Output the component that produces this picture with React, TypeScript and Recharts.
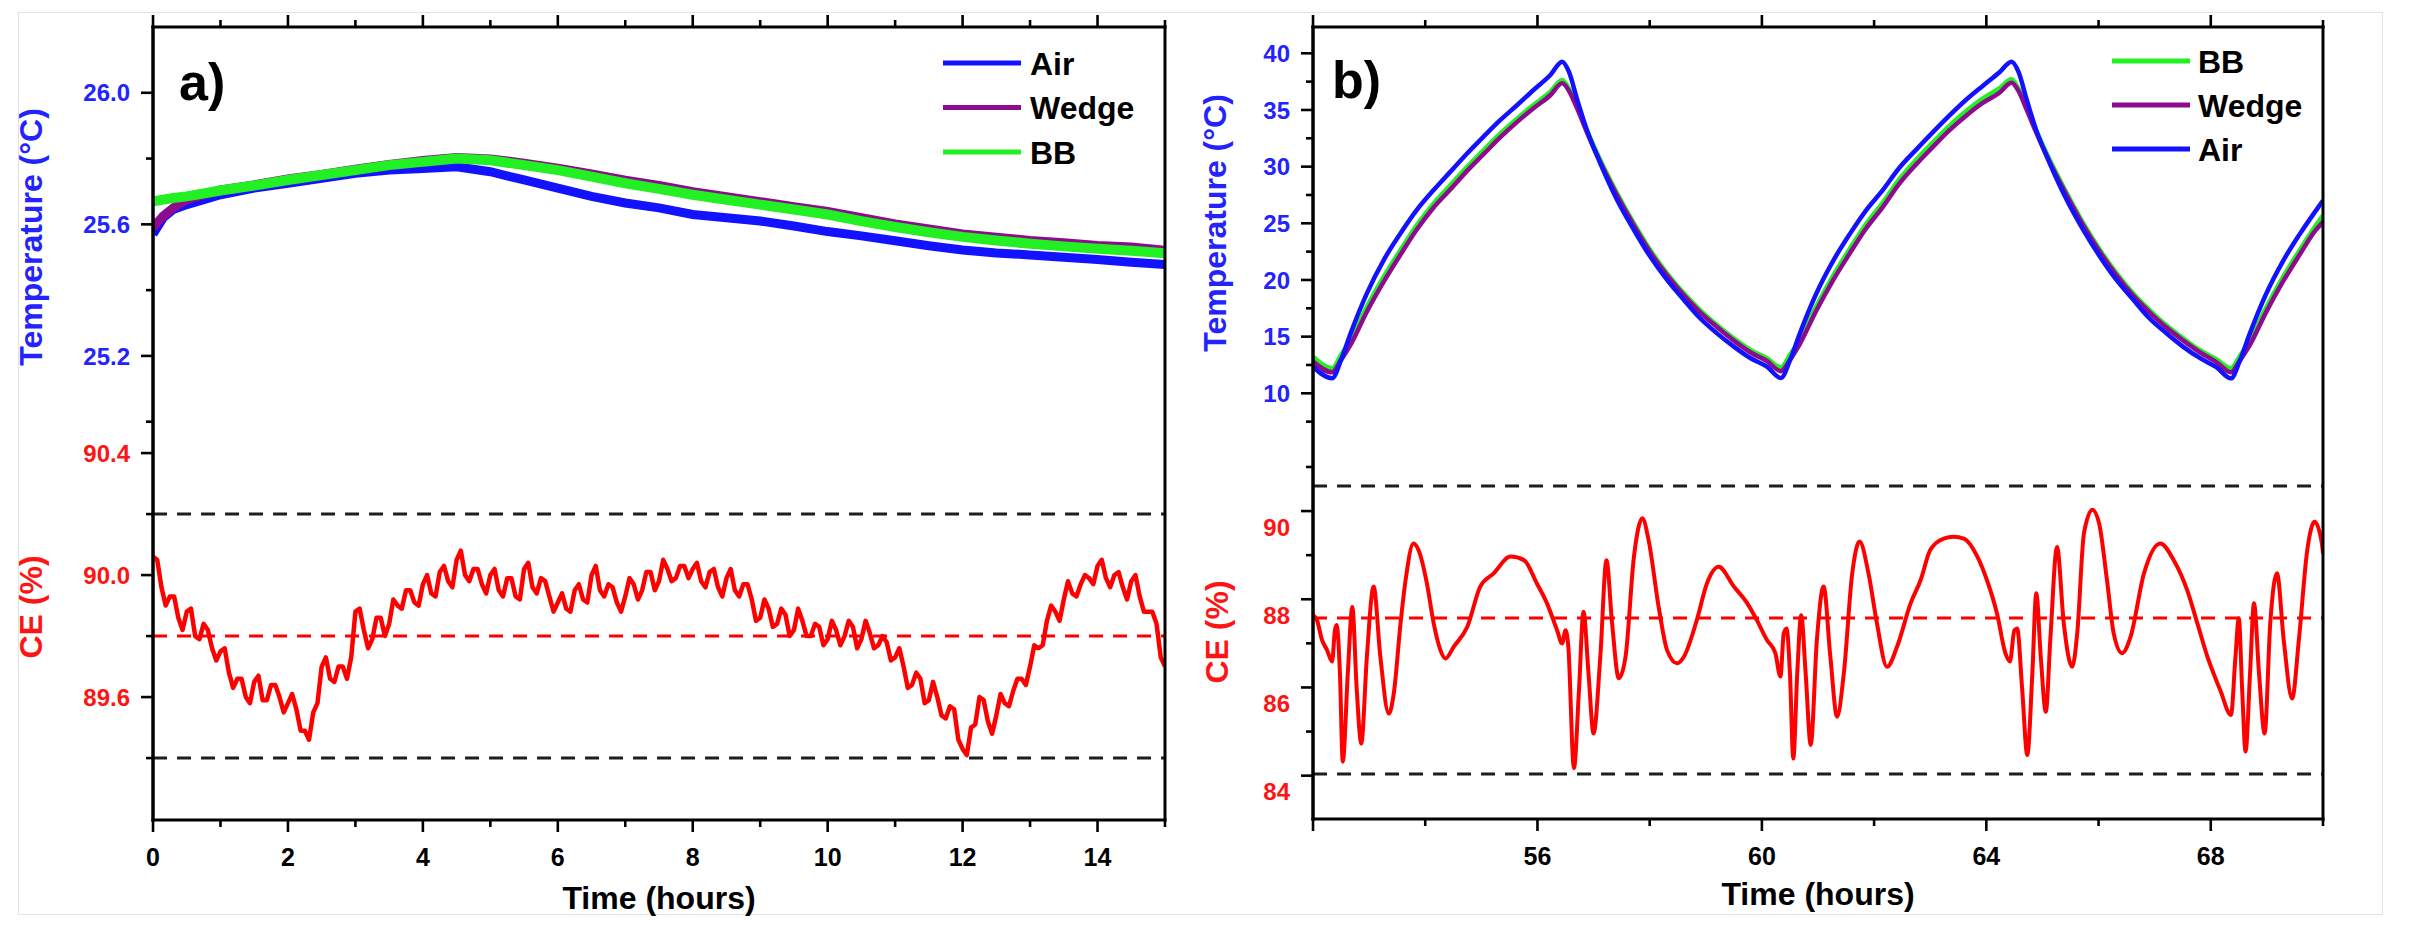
import React from 'react';
import { LineChart, Line, XAxis, YAxis, ReferenceLine } from 'recharts';

const FONT = '"Liberation Sans", Arial, Helvetica, sans-serif';

const AIR_COLOR = '#1212ff';
const WEDGE_COLOR = '#8e0a8e';
const BB_COLOR = '#22f022';
const CE_COLOR = '#ff0000';
const TEMP_TEXT = '#2323ff';
const CE_TEXT = '#ff1414';
const DASH_BLACK = '#1e1e1e';

/* ---------------- Panel a ---------------- */
const tempTimesA = [0, 0.15, 0.3, 0.5, 1, 1.5, 2, 2.5, 3, 3.5, 4, 4.5, 5, 5.5, 6, 6.5, 7, 7.5, 8, 8.5, 9, 9.5, 10, 10.5, 11, 11.5, 12, 12.5, 13, 13.5, 14, 14.5, 15];
const airTempA = [25.57, 25.62, 25.645, 25.66, 25.69, 25.71, 25.725, 25.74, 25.755, 25.765, 25.77, 25.775, 25.76, 25.735, 25.71, 25.685, 25.665, 25.65, 25.63, 25.62, 25.61, 25.595, 25.578, 25.565, 25.55, 25.535, 25.522, 25.513, 25.507, 25.5, 25.493, 25.485, 25.478];
const wedgeTempA = [25.59, 25.625, 25.65, 25.675, 25.705, 25.72, 25.738, 25.752, 25.768, 25.782, 25.794, 25.803, 25.799, 25.786, 25.771, 25.753, 25.734, 25.718, 25.699, 25.684, 25.669, 25.654, 25.639, 25.62, 25.601, 25.586, 25.571, 25.561, 25.551, 25.544, 25.536, 25.531, 25.521];
const bbTempA = [25.67, 25.675, 25.68, 25.685, 25.703, 25.718, 25.735, 25.75, 25.765, 25.78, 25.79, 25.8, 25.795, 25.78, 25.765, 25.745, 25.725, 25.708, 25.69, 25.675, 25.66, 25.645, 25.63, 25.61, 25.592, 25.576, 25.562, 25.551, 25.541, 25.533, 25.526, 25.52, 25.512];

const ceTimesA = [0, 0.125, 0.25, 0.375, 0.5, 0.625, 0.75, 0.875, 1, 1.125, 1.25, 1.375, 1.5, 1.625, 1.75, 1.875, 2, 2.125, 2.25, 2.375, 2.5, 2.625, 2.75, 2.875, 3, 3.125, 3.25, 3.375, 3.5, 3.625, 3.75, 3.875, 4, 4.125, 4.25, 4.375, 4.5, 4.625, 4.75, 4.875, 5, 5.125, 5.25, 5.375, 5.5, 5.625, 5.75, 5.875, 6, 6.125, 6.25, 6.375, 6.5, 6.625, 6.75, 6.875, 7, 7.125, 7.25, 7.375, 7.5, 7.625, 7.75, 7.875, 8, 8.125, 8.25, 8.375, 8.5, 8.625, 8.75, 8.875, 9, 9.125, 9.25, 9.375, 9.5, 9.625, 9.75, 9.875, 10, 10.125, 10.25, 10.375, 10.5, 10.625, 10.75, 10.875, 11, 11.125, 11.25, 11.375, 11.5, 11.625, 11.75, 11.875, 12, 12.125, 12.25, 12.375, 12.5, 12.625, 12.75, 12.875, 13, 13.125, 13.25, 13.375, 13.5, 13.625, 13.75, 13.875, 14, 14.125, 14.25, 14.375, 14.5, 14.625, 14.75, 14.875, 15];
const ceA = [
  90.06, 89.96, 89.93, 89.86, 89.88, 89.80, 89.84, 89.76,
  89.75, 89.68, 89.66, 89.60, 89.65, 89.59, 89.64, 89.60,
  89.58, 89.56, 89.49, 89.55, 89.70, 89.66, 89.70, 89.66,
  89.88, 89.82, 89.79, 89.86, 89.84, 89.90, 89.95, 89.91,
  89.97, 89.94, 90.01, 89.98, 90.05, 90.00, 90.02, 89.97,
  90.00, 89.95, 89.99, 89.93, 90.02, 89.96, 89.99, 89.93,
  89.91, 89.89, 89.95, 89.92, 90.00, 89.95, 89.97, 89.91,
  89.93, 89.97, 89.95, 90.01, 89.98, 90.02, 89.99, 90.03,
  90.02, 89.98, 90.01, 89.96, 89.99, 89.95, 89.97, 89.92,
  89.86, 89.89, 89.84, 89.87, 89.82, 89.85, 89.80, 89.83,
  89.79, 89.82, 89.80, 89.83, 89.79, 89.81, 89.77, 89.78,
  89.73, 89.70, 89.64, 89.66, 89.59, 89.60, 89.53, 89.56,
  89.43, 89.50, 89.60, 89.52, 89.54, 89.58, 89.62, 89.66,
  89.70, 89.76, 89.85, 89.88, 89.92, 89.94, 89.97, 89.99,
  90.03, 89.99, 90.00, 89.96, 89.98, 89.93, 89.88, 89.84,
  89.70,
];
// in-between readings (the fast jitter of the CE trace)
const ceMidTimesA = [
  0.0625, 0.1875, 0.3125, 0.4375, 0.5625, 0.6875, 0.8125, 0.9375,
  1.0625, 1.1875, 1.3125, 1.4375, 1.5625, 1.6875, 1.8125, 1.9375,
  2.0625, 2.1875, 2.3125, 2.4375, 2.5625, 2.6875, 2.8125, 2.9375,
  3.0625, 3.1875, 3.3125, 3.4375, 3.5625, 3.6875, 3.8125, 3.9375,
  4.0625, 4.1875, 4.3125, 4.4375, 4.5625, 4.6875, 4.8125, 4.9375,
  5.0625, 5.1875, 5.3125, 5.4375, 5.5625, 5.6875, 5.8125, 5.9375,
  6.0625, 6.1875, 6.3125, 6.4375, 6.5625, 6.6875, 6.8125, 6.9375,
  7.0625, 7.1875, 7.3125, 7.4375, 7.5625, 7.6875, 7.8125, 7.9375,
  8.0625, 8.1875, 8.3125, 8.4375, 8.5625, 8.6875, 8.8125, 8.9375,
  9.0625, 9.1875, 9.3125, 9.4375, 9.5625, 9.6875, 9.8125, 9.9375,
  10.0625, 10.1875, 10.3125, 10.4375, 10.5625, 10.6875, 10.8125, 10.9375,
  11.0625, 11.1875, 11.3125, 11.4375, 11.5625, 11.6875, 11.8125, 11.9375,
  12.0625, 12.1875, 12.3125, 12.4375, 12.5625, 12.6875, 12.8125, 12.9375,
  13.0625, 13.1875, 13.3125, 13.4375, 13.5625, 13.6875, 13.8125, 13.9375,
  14.0625, 14.1875, 14.3125, 14.4375, 14.5625, 14.6875, 14.8125, 14.9375,
];
const ceMidA = [
  90.05, 89.90, 89.93, 89.82, 89.89, 89.79, 89.82, 89.72,
  89.76, 89.63, 89.66, 89.58, 89.67, 89.59, 89.64, 89.55,
  89.61, 89.49, 89.46, 89.58, 89.73, 89.65, 89.70, 89.73,
  89.89, 89.76, 89.86, 89.80, 89.92, 89.89, 89.95, 89.90,
  90.00, 89.93, 90.03, 89.96, 90.08, 89.98, 90.02, 89.94,
  90.02, 89.93, 89.99, 89.92, 90.04, 89.94, 89.98, 89.88,
  89.94, 89.88, 89.97, 89.91, 90.03, 89.93, 89.96, 89.88,
  89.99, 89.92, 90.01, 89.95, 90.05, 89.98, 90.03, 89.99,
  90.04, 89.96, 90.02, 89.93, 90.02, 89.93, 89.97, 89.85,
  89.92, 89.83, 89.89, 89.80, 89.89, 89.80, 89.84, 89.77,
  89.85, 89.77, 89.85, 89.76, 89.85, 89.76, 89.80, 89.72,
  89.76, 89.63, 89.68, 89.58, 89.65, 89.54, 89.57, 89.46,
  89.41, 89.51, 89.59, 89.48, 89.61, 89.57, 89.66, 89.64,
  89.77, 89.77, 89.90, 89.85, 89.98, 89.93, 90.00, 89.97,
  90.05, 89.96, 90.01, 89.92, 90.00, 89.88, 89.88, 89.73,
];
const ceUpperA = 90.2;
const ceMeanA = 89.8;
const ceLowerA = 89.4;

const xTicksA = [0, 1, 2, 3, 4, 5, 6, 7, 8, 9, 10, 11, 12, 13, 14, 15];
const xMajorsA = [0, 2, 4, 6, 8, 10, 12, 14];
const tempTicksA = [25.0, 25.2, 25.4, 25.6, 25.8, 26.0];
const tempLabelsA = [25.2, 25.6, 26.0];
const ceTicksA = [89.4, 89.6, 89.8, 90.0, 90.2, 90.4];
const ceLabelsA = [89.6, 90.0, 90.4];

/* ---------------- Panel b ---------------- */
const tempTimesB = [
  52.0, 52.34, 52.5, 52.67, 52.96, 53.26, 53.56, 53.85, 54.15, 54.45, 54.75, 55.04, 55.34, 55.64, 55.93, 56.23, 56.44, 56.56, 56.71, 56.88, 57.12, 57.42, 57.72, 58.01, 58.31, 58.61, 58.9, 59.2, 59.5, 59.8, 60.09,
  60.34, 60.5, 60.67, 60.96, 61.26, 61.56, 61.85, 62.15, 62.45, 62.75, 63.04, 63.34, 63.64, 63.93, 64.23, 64.45, 64.57, 64.72, 64.89, 65.13, 65.43, 65.73, 66.02, 66.32, 66.62, 66.91, 67.21, 67.51, 67.81, 68.1,
  68.36, 68.52, 68.69, 68.98, 69.28, 69.58, 69.87, 70.0,
];
const airTempB = [
  12.35, 11.32, 12.94, 15.29, 18.82, 21.76, 24.12, 26.18, 27.94, 29.56, 31.18, 32.65, 34.12, 35.44, 36.76, 38.09, 39.26, 38.38, 35.88, 33.24, 30.29, 27.06, 24.41, 22.06, 20.0, 18.24, 16.62, 15.29, 14.12, 13.09, 12.35,
  11.35, 12.9, 15.2, 18.7, 21.6, 24.0, 26.1, 27.9, 29.9, 31.5, 33.0, 34.5, 35.9, 37.1, 38.3, 39.26, 38.4, 35.9, 33.2, 30.3, 27.1, 24.4, 22.1, 20.0, 18.25, 16.6, 15.3, 14.1, 13.1, 12.3,
  11.32, 12.9, 15.2, 18.7, 21.6, 24.0, 26.1, 27.0,
];
const wedgeTempB = [
  12.8, 11.85, 12.95, 14.3, 17.2, 19.85, 22.25, 24.45, 26.4, 28.0, 29.65, 31.1, 32.6, 33.95, 35.15, 36.3, 37.35, 36.7, 35.1, 33.05, 30.4, 27.45, 24.8, 22.45, 20.4, 18.65, 17.15, 15.85, 14.65, 13.6, 12.85,
  11.95, 12.95, 14.3, 17.2, 19.9, 22.3, 24.5, 26.4, 28.5, 30.2, 31.7, 33.2, 34.5, 35.6, 36.5, 37.4, 36.7, 35.0, 33.0, 30.4, 27.5, 24.8, 22.5, 20.4, 18.6, 17.15, 15.8, 14.65, 13.6, 12.75,
  11.85, 12.9, 14.2, 17.1, 19.8, 22.2, 24.4, 25.1,
];
const bbTempB = [
  13.24, 12.21, 13.4, 14.71, 17.65, 20.29, 22.65, 24.85, 26.76, 28.38, 30.0, 31.47, 32.94, 34.26, 35.44, 36.62, 37.65, 36.9, 35.29, 33.24, 30.59, 27.65, 25.0, 22.65, 20.59, 18.82, 17.35, 16.03, 14.85, 13.82, 13.09,
  12.3, 13.4, 14.7, 17.6, 20.3, 22.7, 24.9, 26.8, 28.9, 30.6, 32.1, 33.6, 34.9, 36.0, 36.9, 37.7, 36.9, 35.2, 33.2, 30.6, 27.7, 25.0, 22.7, 20.6, 18.8, 17.35, 16.0, 14.85, 13.8, 13.0,
  12.21, 13.3, 14.6, 17.5, 20.2, 22.6, 24.8, 25.7,
];

const ceTimesB = [52.0, 52.07, 52.16, 52.25, 52.34, 52.39, 52.42, 52.48, 52.53, 52.62, 52.70, 52.78, 52.86, 52.96, 53.08, 53.20, 53.35, 53.44, 53.56, 53.65, 53.79, 53.88, 54.03, 54.15, 54.27, 54.36, 54.51, 54.75, 54.98, 55.22, 55.52, 55.76, 55.99, 56.17, 56.35, 56.44, 56.50, 56.55, 56.65, 56.74, 56.82, 56.91, 57.00, 57.12, 57.23, 57.33, 57.45, 57.57, 57.72, 57.87, 57.98, 58.16, 58.31, 58.49, 58.61, 58.84, 59.02, 59.23, 59.50, 59.74, 59.91, 60.09, 60.24, 60.33, 60.39, 60.44, 60.50, 60.56, 60.63, 60.70, 60.78, 60.87, 60.98, 61.10, 61.22, 61.34, 61.46, 61.61, 61.74, 61.90, 62.05, 62.23, 62.41, 62.65, 62.83, 63.00, 63.24, 63.42, 63.60, 63.84, 64.01, 64.19, 64.34, 64.42, 64.50, 64.55, 64.64, 64.73, 64.82, 64.89, 64.97, 65.06, 65.14, 65.26, 65.38, 65.53, 65.62, 65.74, 65.89, 66.01, 66.15, 66.27, 66.42, 66.57, 66.81, 67.10, 67.34, 67.58, 67.76, 67.94, 68.17, 68.36, 68.44, 68.50, 68.56, 68.62, 68.70, 68.77, 68.86, 68.96, 69.06, 69.18, 69.30, 69.45, 69.57, 69.72, 69.85, 69.98, 70.00];
const ceB = [88.0, 87.89, 87.44, 87.21, 86.95, 87.66, 87.78, 86.68, 84.68, 86.68, 88.19, 86.30, 85.09, 87.06, 88.65, 87.06, 85.77, 86.23, 87.82, 88.80, 89.63, 89.48, 88.72, 87.82, 87.21, 87.02, 87.29, 87.74, 88.65, 88.95, 89.33, 89.25, 88.72, 88.27, 87.66, 87.36, 87.66, 87.29, 84.53, 86.30, 88.08, 86.68, 85.32, 87.06, 89.25, 87.82, 86.57, 87.06, 89.33, 90.20, 89.71, 88.19, 87.21, 86.91, 87.06, 87.89, 88.72, 89.10, 88.65, 88.27, 87.89, 87.44, 87.14, 86.61, 87.59, 87.70, 86.68, 84.75, 86.68, 88.00, 86.68, 85.06, 87.44, 88.65, 87.06, 85.70, 86.68, 88.95, 89.67, 88.95, 87.82, 86.83, 87.29, 88.27, 88.80, 89.48, 89.74, 89.78, 89.74, 89.33, 88.80, 88.04, 87.14, 86.95, 87.66, 87.70, 86.30, 84.83, 86.68, 88.50, 87.06, 85.81, 87.44, 89.55, 87.82, 86.83, 87.59, 89.86, 90.39, 90.08, 88.80, 87.59, 87.14, 87.51, 88.95, 89.63, 89.25, 88.57, 87.82, 87.06, 86.30, 85.74, 87.06, 87.93, 86.30, 84.91, 86.68, 88.27, 86.68, 85.32, 87.82, 88.95, 87.44, 86.11, 87.44, 89.48, 90.12, 89.63, 89.40];
const ceUpperB = 90.93;
const ceMeanB = 87.94;
const ceLowerB = 84.4;

const xTicksB = [52, 54, 56, 58, 60, 62, 64, 66, 68, 70];
const xMajorsB = [52, 56, 60, 64, 68];
const xLabelsB = [56, 60, 64, 68];
const tempTicksB = [7.5, 10, 12.5, 15, 17.5, 20, 22.5, 25, 27.5, 30, 32.5, 35, 37.5, 40];
const tempLabelsB = [10, 15, 20, 25, 30, 35, 40];
const ceTicksB = [84, 85, 86, 87, 88, 89, 90, 91];
const ceLabelsB = [84, 86, 88, 90];

/* ---------------- helpers ---------------- */
const rows = (times: number[], values: number[]) => times.map((t, i) => ({ t, v: values[i] }));
const has = (arr: number[], v: number) => arr.some((m) => Math.abs(m - v) < 1e-6);
const ceRowsA = [...rows(ceTimesA, ceA), ...rows(ceMidTimesA, ceMidA)].sort((a, b) => a.t - b.t);

const AXIS_LINE = { stroke: '#000', strokeWidth: 3, strokeLinecap: 'square' as const };
const THIN = 0.01;

function yTick(opts: { majors: number[]; labels: number[]; color: string; digits: number; lineShift?: number }) {
  return (props: any) => {
    const { x, y, payload } = props;
    const v = payload.value as number;
    const major = has(opts.majors, v);
    const ly = y + (opts.lineShift || 0);
    return (
      <g>
        <line x1={x} x2={x - (major ? 12 : 7)} y1={ly} y2={ly} stroke="#000" strokeWidth={2.6} />
        {has(opts.labels, v) && (
          <text x={x - 23} y={y} dy="0.36em" textAnchor="end" fill={opts.color} fontFamily={FONT} fontWeight="bold" fontSize={24}>
            {v.toFixed(opts.digits)}
          </text>
        )}
      </g>
    );
  };
}

function xTick(opts: { majors: number[]; labels: number[]; dir: number }) {
  return (props: any) => {
    const { x, y, payload } = props;
    const v = payload.value as number;
    const major = has(opts.majors, v);
    return (
      <g>
        <line x1={x} x2={x} y1={y} y2={y + opts.dir * (major ? 12 : 7)} stroke="#000" strokeWidth={2.6} />
        {opts.dir > 0 && has(opts.labels, v) && (
          <text x={x} y={y + 37} dy="0.36em" textAnchor="middle" fill="#000" fontFamily={FONT} fontWeight="bold" fontSize={25}>
            {String(v)}
          </text>
        )}
      </g>
    );
  };
}

const seriesA = [
  { name: 'Air', color: AIR_COLOR, width: 9, values: airTempA },
  { name: 'Wedge', color: WEDGE_COLOR, width: 9, values: wedgeTempA },
  { name: 'BB', color: BB_COLOR, width: 10, values: bbTempA },
];
const seriesB = [
  { name: 'BB', color: BB_COLOR, width: 4.5, values: bbTempB },
  { name: 'Wedge', color: WEDGE_COLOR, width: 4.5, values: wedgeTempB },
  { name: 'Air', color: AIR_COLOR, width: 4.5, values: airTempB },
];

function PanelA() {
  return (
    <LineChart width={1210} height={932} margin={{ top: 27, right: 45, bottom: 112, left: 153 }}>
      <XAxis xAxisId="b" type="number" dataKey="t" domain={[0, 15]} allowDataOverflow ticks={xTicksA} interval={0} height={THIN} tickSize={0} tickMargin={0} tickLine={false} axisLine={AXIS_LINE} tick={xTick({ majors: xMajorsA, labels: xMajorsA, dir: 1 })} />
      <XAxis xAxisId="top" orientation="top" type="number" dataKey="t" domain={[0, 15]} allowDataOverflow ticks={xTicksA} interval={0} height={THIN} tickSize={0} tickMargin={0} tickLine={false} axisLine={AXIS_LINE} tick={xTick({ majors: xMajorsA, labels: [], dir: -1 })} />
      <YAxis yAxisId="T" type="number" domain={[23.789, 26.2]} allowDataOverflow ticks={tempTicksA} interval={0} width={THIN} tickSize={0} tickMargin={0} tickLine={false} axisLine={AXIS_LINE} tick={yTick({ majors: tempLabelsA, labels: tempLabelsA, color: TEMP_TEXT, digits: 1 })} />
      <YAxis yAxisId="C" type="number" domain={[89.197, 91.797]} allowDataOverflow ticks={ceTicksA} interval={0} width={THIN} tickSize={0} tickMargin={0} tickLine={false} axisLine={AXIS_LINE} tick={yTick({ majors: ceLabelsA, labels: ceLabelsA, color: CE_TEXT, digits: 1 })} />
      <YAxis yAxisId="R" orientation="right" type="number" domain={[0, 1]} width={THIN} tick={false} tickLine={false} axisLine={AXIS_LINE} />
      <ReferenceLine xAxisId="b" yAxisId="C" y={ceUpperA} stroke={DASH_BLACK} strokeWidth={3} strokeDasharray="14 10" />
      <ReferenceLine xAxisId="b" yAxisId="C" y={ceLowerA} stroke={DASH_BLACK} strokeWidth={3} strokeDasharray="14 10" />
      <ReferenceLine xAxisId="b" yAxisId="C" y={ceMeanA} stroke={CE_COLOR} strokeWidth={3} strokeDasharray="14 10" />
      {seriesA.map((s) => (
        <Line key={s.name} name={s.name} xAxisId="b" yAxisId="T" data={rows(tempTimesA, s.values)} dataKey="v" type="linear" stroke={s.color} strokeWidth={s.width} dot={false} activeDot={false} isAnimationActive={false} />
      ))}
      <Line name="CE" xAxisId="b" yAxisId="C" data={ceRowsA} dataKey="v" type="linear" stroke={CE_COLOR} strokeWidth={4.5} strokeLinejoin="round" dot={false} activeDot={false} isAnimationActive={false} />
    </LineChart>
  );
}

function PanelB() {
  return (
    <LineChart width={1233} height={932} margin={{ top: 27, right: 90, bottom: 113, left: 133 }}>
      <XAxis xAxisId="b" type="number" dataKey="t" domain={[52, 70]} allowDataOverflow ticks={xTicksB} interval={0} height={THIN} tickSize={0} tickMargin={0} tickLine={false} axisLine={AXIS_LINE} tick={xTick({ majors: xMajorsB, labels: xLabelsB, dir: 1 })} />
      <XAxis xAxisId="top" orientation="top" type="number" dataKey="t" domain={[52, 70]} allowDataOverflow ticks={xTicksB} interval={0} height={THIN} tickSize={0} tickMargin={0} tickLine={false} axisLine={AXIS_LINE} tick={xTick({ majors: xMajorsB, labels: [], dir: -1 })} />
      <YAxis yAxisId="T" type="number" domain={[-27.56, 42.32]} allowDataOverflow ticks={tempTicksB} interval={0} width={THIN} tickSize={0} tickMargin={0} tickLine={false} axisLine={AXIS_LINE} tick={yTick({ majors: tempLabelsB, labels: tempLabelsB, color: TEMP_TEXT, digits: 0 })} />
      <YAxis yAxisId="C" type="number" domain={[83.38, 101.34]} allowDataOverflow ticks={ceTicksB} interval={0} width={THIN} tickSize={0} tickMargin={0} tickLine={false} axisLine={AXIS_LINE} tick={yTick({ majors: ceLabelsB, labels: ceLabelsB, color: CE_TEXT, digits: 0, lineShift: -16 })} />
      <YAxis yAxisId="R" orientation="right" type="number" domain={[0, 1]} width={THIN} tick={false} tickLine={false} axisLine={AXIS_LINE} />
      <ReferenceLine xAxisId="b" yAxisId="C" y={ceUpperB} stroke={DASH_BLACK} strokeWidth={3} strokeDasharray="14 10" />
      <ReferenceLine xAxisId="b" yAxisId="C" y={ceLowerB} stroke={DASH_BLACK} strokeWidth={3} strokeDasharray="14 10" />
      <ReferenceLine xAxisId="b" yAxisId="C" y={ceMeanB} stroke={CE_COLOR} strokeWidth={3} strokeDasharray="14 10" />
      {seriesB.map((s) => (
        <Line key={s.name} name={s.name} xAxisId="b" yAxisId="T" data={rows(tempTimesB, s.values)} dataKey="v" type="monotone" stroke={s.color} strokeWidth={s.width} strokeLinejoin="round" dot={false} activeDot={false} isAnimationActive={false} />
      ))}
      <Line name="CE" xAxisId="b" yAxisId="C" data={rows(ceTimesB, ceB)} dataKey="v" type="monotone" stroke={CE_COLOR} strokeWidth={4} dot={false} activeDot={false} isAnimationActive={false} />
    </LineChart>
  );
}

function LegendBox({ items, x1, x2, tx, y0, step }: { items: { name: string; color: string }[]; x1: number; x2: number; tx: number; y0: number; step: number }) {
  return (
    <g>
      {items.map((it, i) => (
        <g key={it.name}>
          <line x1={x1} x2={x2} y1={y0 + i * step} y2={y0 + i * step} stroke={it.color} strokeWidth={5} />
          <text x={tx} y={y0 + i * step} dy="0.36em" fontFamily={FONT} fontWeight="bold" fontSize={32} fill="#000">
            {it.name}
          </text>
        </g>
      ))}
    </g>
  );
}

function VTitle({ x, y, text, color }: { x: number; y: number; text: string; color: string }) {
  return (
    <text transform={`translate(${x},${y}) rotate(-90)`} textAnchor="middle" fontFamily={FONT} fontWeight="bold" fontSize={32} fill={color}>
      {text}
    </text>
  );
}

export default function App() {
  return (
    <div style={{ position: 'absolute', left: 0, top: 0, width: 2413, height: 932, background: '#fff', overflow: 'hidden' }}>
      <div style={{ position: 'absolute', left: 18, top: 12, width: 2363, height: 901, border: '1px solid #e3e3e3' }} />
      <div style={{ position: 'absolute', left: 0, top: 0 }}>
        <PanelA />
      </div>
      <div style={{ position: 'absolute', left: 1180, top: 0 }}>
        <PanelB />
      </div>
      <svg width={2413} height={932} style={{ position: 'absolute', left: 0, top: 0, pointerEvents: 'none' }}>
        <text x={179} y={100} fontFamily={FONT} fontWeight="bold" fontSize={52} fill="#000">a)</text>
        <text x={1332} y={98} fontFamily={FONT} fontWeight="bold" fontSize={52} fill="#000">b)</text>
        <VTitle x={42} y={237} text="Temperature (°C)" color={TEMP_TEXT} />
        <VTitle x={42} y={607} text="CE (%)" color={CE_TEXT} />
        <VTitle x={1226} y={223} text="Temperature (°C)" color={TEMP_TEXT} />
        <VTitle x={1228} y={632} text="CE (%)" color={CE_TEXT} />
        <text x={659} y={909} textAnchor="middle" fontFamily={FONT} fontWeight="bold" fontSize={32} fill="#000">Time (hours)</text>
        <text x={1818} y={905} textAnchor="middle" fontFamily={FONT} fontWeight="bold" fontSize={32} fill="#000">Time (hours)</text>
        <LegendBox items={seriesA} x1={943} x2={1021} tx={1030} y0={63} step={44.5} />
        <LegendBox items={seriesB} x1={2112} x2={2190} tx={2198} y0={61} step={44} />
      </svg>
    </div>
  );
}
